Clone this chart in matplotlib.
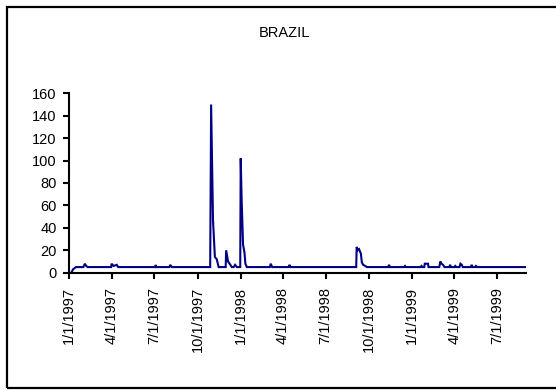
import matplotlib
matplotlib.use('Agg')
import matplotlib.pyplot as plt
import matplotlib.dates as mdates
import numpy as np
from datetime import date, timedelta

# vertices of the line: days after 1/1/1997 and value
day_offsets = [4, 8, 14, 30, 33, 36, 39,
               89, 90, 94, 101, 104,
               183, 184, 185, 213, 215, 218,
               300, 302, 306, 310, 314, 318,
               333, 334, 338, 343, 346, 350, 353, 357,
               364, 365, 367, 370, 373, 375, 378,
               427, 429, 432, 467, 469, 471,
               611, 612, 614, 617, 621, 623, 626, 630, 634,
               679, 681, 683, 713, 715, 717,
               748, 750, 752, 756, 757, 764, 765,
               788, 790, 793, 796, 799, 809, 811, 813,
               820, 822, 824, 831, 833, 836, 838,
               855, 857, 859, 864, 866, 868, 972]
values = [0, 3, 5, 5, 8, 6, 5,
          5, 8, 6, 7, 5,
          5, 7, 5, 5, 7, 5,
          5, 150, 47, 14, 12, 5,
          5, 20, 10, 7, 5, 5, 7, 5,
          5, 102, 65, 25, 18, 8, 5,
          5, 8, 5, 5, 7, 5,
          5, 23, 20, 21, 17, 9, 7, 6, 5,
          5, 7, 5, 5, 6, 5,
          5, 6, 5, 5, 8, 8, 5,
          5, 10, 8, 7, 5, 5, 7, 5,
          5, 6, 5, 5, 8, 7, 5,
          5, 7, 5, 5, 6, 5, 5]

tick_dates = ['1997-01-01', '1997-04-01', '1997-07-01', '1997-10-01',
              '1998-01-01', '1998-04-01', '1998-07-01', '1998-10-01',
              '1999-01-01', '1999-04-01', '1999-07-01']
tick_labels = ['1/1/1997', '4/1/1997', '7/1/1997', '10/1/1997',
               '1/1/1998', '4/1/1998', '7/1/1998', '10/1/1998',
               '1/1/1999', '4/1/1999', '7/1/1999']
y_ticks = [0, 20, 40, 60, 80, 100, 120, 140, 160]

plt.rcParams['font.family'] = ['Liberation Sans', 'DejaVu Sans']

start = date(1997, 1, 1)
dates = [start + timedelta(days=d) for d in day_offsets]

fig = plt.figure(figsize=(5.56, 3.91), dpi=100)
fig.patch.set_facecolor('white')

# outer frame of the chart area
fig.add_artist(plt.Rectangle((7 / 556, 3 / 391), 1.2, 381 / 391,
                             transform=fig.transFigure, fill=False,
                             edgecolor='black', linewidth=1.6))

ax = fig.add_axes([0.1247, 0.3026, 0.9455 - 0.1247, 0.7614 - 0.3026])
ax.plot(dates, values, color='#000080', linewidth=1.5, solid_joinstyle='miter')

ax.set_xlim(mdates.date2num(date(1997, 1, 1)), mdates.date2num(date(1999, 8, 31)))
ax.set_ylim(0, 160)
ax.set_yticks(y_ticks)
ax.set_xticks(mdates.datestr2num(tick_dates))
ax.set_xticklabels(tick_labels, rotation=90)

for side in ['top', 'right']:
    ax.spines[side].set_visible(False)
for side in ['left', 'bottom']:
    ax.spines[side].set_linewidth(1.5)
ax.tick_params(direction='out', length=4, width=1.5, labelsize=10.5)
ax.tick_params(axis='x', pad=6)
ax.tick_params(axis='y', pad=5)

# title sits over the middle of the whole chart box
fig.text(284 / 556, 1 - 33 / 391, 'BRAZIL', fontsize=10.5, ha='center', va='center')

fig.savefig('out.png', dpi=100)
